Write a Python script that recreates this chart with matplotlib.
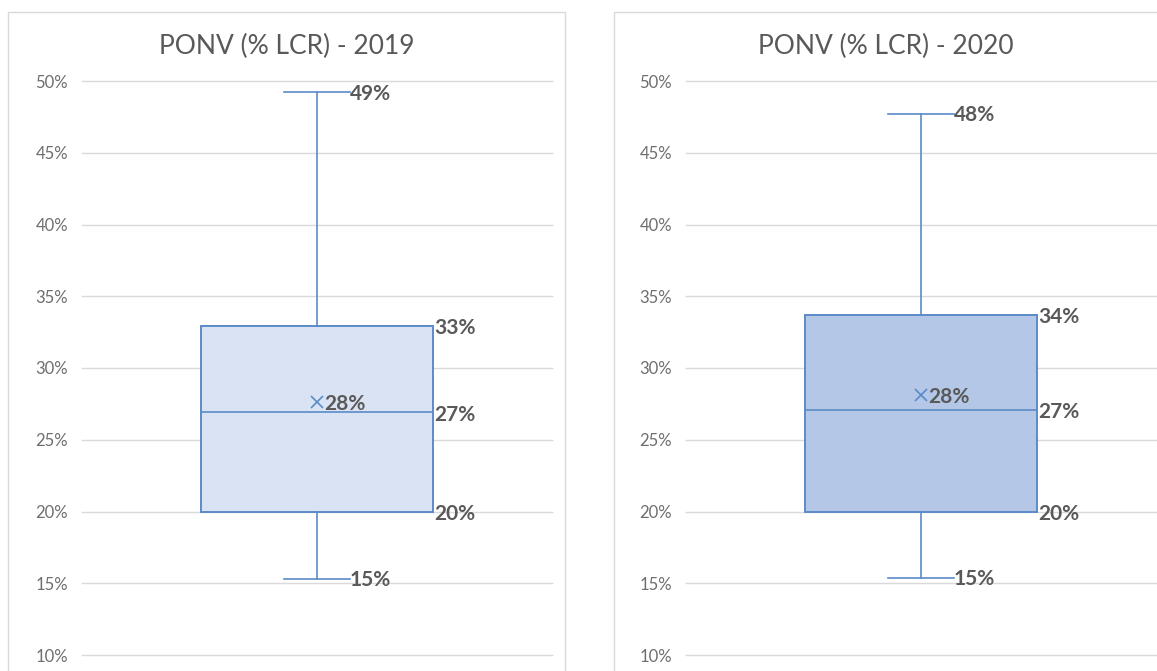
import matplotlib
matplotlib.use("Agg")
import matplotlib.pyplot as plt
from matplotlib.patches import Rectangle
from matplotlib.ticker import PercentFormatter, MultipleLocator

# Datos (fracciones)
years = ["2019", "2020"]
whislo = [0.153, 0.154]
q1 = [0.200, 0.200]
med = [0.269, 0.271]
mean = [0.276, 0.281]
q3 = [0.329, 0.337]
whishi = [0.492, 0.477]
fills = ["#DAE3F3", "#B4C7E7"]

line_c = "#5B8BC7"
text_c = "#595959"
plt.rcParams['font.family'] = ['Lato', 'DejaVu Sans']

fig = plt.figure(figsize=(11.57, 6.71), dpi=100)
W, H = 1157, 671

# marcos de cada gráfico
for x0, x1 in [(8, 565), (614, 1175)]:
    fig.patches.append(Rectangle((x0 / W, -0.05), (x1 - x0) / W, 1 - 12 / H + 0.05,
                                 transform=fig.transFigure, facecolor="white",
                                 edgecolor="#D9D9D9", linewidth=1.0, zorder=-1))

axes_left = [82, 686]
box_w = 0.495
cap_w = 0.14

for i, yr in enumerate(years):
    ax = fig.add_axes([axes_left[i] / W, 1 - 655 / H, 470 / W, 574 / H])
    ax.set_facecolor("none")
    stats = [dict(whislo=whislo[i], q1=q1[i], med=med[i], q3=q3[i],
                  whishi=whishi[i], mean=mean[i], fliers=[])]
    b = ax.bxp(stats, positions=[0.5], widths=box_w, capwidths=cap_w,
               showmeans=True, patch_artist=True,
               boxprops=dict(facecolor=fills[i], edgecolor=line_c, linewidth=1.4),
               whiskerprops=dict(color=line_c, linewidth=1.2),
               capprops=dict(color=line_c, linewidth=1.2),
               medianprops=dict(color=line_c, linewidth=1.2),
               meanprops=dict(marker="x", markeredgecolor=line_c, markersize=9,
                              markeredgewidth=1.2, linestyle="none"))

    ax.set_xlim(0, 1)
    ax.set_ylim(0.10, 0.50)
    ax.yaxis.set_major_locator(MultipleLocator(0.05))
    ax.yaxis.set_major_formatter(PercentFormatter(xmax=1, decimals=0))
    ax.tick_params(axis="y", length=0, pad=10, labelsize=12, labelcolor="#6E6E6E")
    ax.set_xticks([])
    for s in ax.spines.values():
        s.set_visible(False)
    ax.grid(axis="y", color="#D9D9D9", linewidth=1.0)
    ax.set_axisbelow(True)
    for gl in ax.get_ygridlines():
        gl.set_clip_on(False)

    # etiquetas de datos
    lab = dict(fontsize=15, fontweight="bold", color=text_c, va="center", ha="left")
    for v in [whislo[i], whishi[i]]:
        ax.annotate(f"{round(v * 100):.0f}%", (0.5 + cap_w / 2, v), xytext=(0, -1),
                    textcoords="offset points", **lab)
    for v in [q1[i], med[i], q3[i]]:
        ax.annotate(f"{round(v * 100):.0f}%", (0.5 + box_w / 2, v), xytext=(1, -1.5),
                    textcoords="offset points", **lab)
    ax.annotate(f"{round(mean[i] * 100):.0f}%", (0.5, mean[i]), xytext=(5, -1),
                textcoords="offset points", **lab)

    cx = ((8, 565), (614, 1158))[i]
    fig.text((cx[0] + cx[1]) / 2 / W, 1 - 46 / H, f"PONV (% LCR) - {yr}",
             ha="center", va="center", fontsize=19, color=text_c)

fig.savefig("out.png", dpi=100)
